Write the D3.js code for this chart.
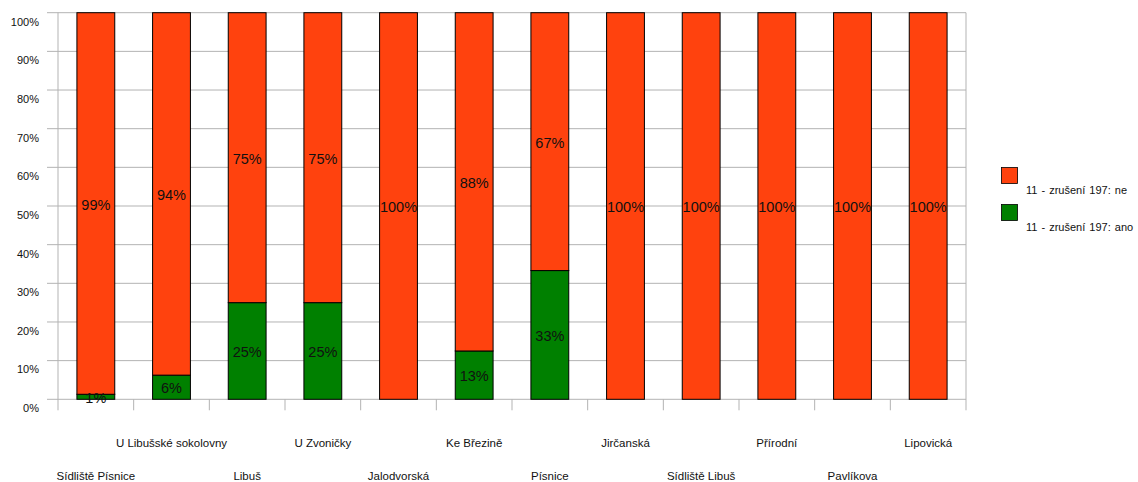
<!DOCTYPE html>
<html><head><meta charset="utf-8">
<script src="https://cdn.jsdelivr.net/npm/d3@7"></script>
<style>body{margin:0;background:#fff}svg{display:block}text{font-family:"Liberation Sans",Arial,sans-serif}</style>
</head><body><svg id="c" width="1138" height="482"></svg>
<script>
const categories = ["Sídliště Písnice","U Libušské sokolovny","Libuš","U Zvoničky","Jalodvorská","Ke Březině","Písnice","Jirčanská","Sídliště Libuš","Přírodní","Pavlíkova","Lipovická"];
const anoValues = [1.3, 6.25, 25, 25, 0, 12.5, 33.3, 0, 0, 0, 0, 0];
const neValues  = [98.7, 93.75, 75, 75, 100, 87.5, 66.7, 100, 100, 100, 100, 100];
const yTicks = [0,10,20,30,40,50,60,70,80,90,100];
const seriesNames = ["11 - zrušení 197: ne", "11 - zrušení 197: ano"];
const colors = {ano:"#008000", ne:"#ff420e"};

const svg = d3.select("#c");
const L=58, R=966, T=12.7, B=399.3;
const x = d3.scaleBand().domain(categories).range([L,R]).paddingInner(0).paddingOuter(0);
const y = d3.scaleLinear().domain([0,100]).range([B,T]);
const bw = x.bandwidth()/2;

svg.append("g").selectAll("line").data(yTicks).join("line")
  .attr("x1",L-11).attr("x2",R).attr("y1",d=>y(d)).attr("y2",d=>y(d))
  .attr("stroke","#b3b3b3").attr("stroke-width",1);
svg.append("line").attr("x1",L).attr("x2",L).attr("y1",T).attr("y2",B+11).attr("stroke","#b3b3b3");
svg.append("line").attr("x1",R).attr("x2",R).attr("y1",T).attr("y2",B+11).attr("stroke","#b3b3b3");
svg.append("g").selectAll("line").data(categories.slice(1)).join("line")
  .attr("x1",d=>x(d)).attr("x2",d=>x(d)).attr("y1",B).attr("y2",B+11).attr("stroke","#b3b3b3");
svg.append("g").selectAll("text").data(yTicks).join("text")
  .attr("x",39).attr("y",d=>y(d)+9).attr("dy","0.35em").attr("text-anchor","end")
  .attr("font-size",11).attr("fill","#111").text(d=>d+"%");

const rows = categories.map((c,i)=>({c, ano:anoValues[i], ne:neValues[i]}));
const g = svg.append("g");
rows.forEach(r=>{
  const cx = x(r.c)+x.bandwidth()/2;
  if(r.ano>0){
    g.append("rect").attr("x",cx-bw/2).attr("width",bw).attr("y",y(r.ano)).attr("height",y(0)-y(r.ano))
     .attr("fill",colors.ano).attr("stroke","#000").attr("stroke-width",1);
  }
  g.append("rect").attr("x",cx-bw/2).attr("width",bw).attr("y",y(r.ano+r.ne)).attr("height",y(r.ano)-y(r.ano+r.ne))
     .attr("fill",colors.ne).attr("stroke","#000").attr("stroke-width",1);
});
rows.forEach(r=>{
  const cx = x(r.c)+x.bandwidth()/2;
  if(r.ano>0){
    g.append("text").attr("x",cx).attr("y",y(r.ano/2)+1).attr("dy","0.35em").attr("text-anchor","middle")
     .attr("font-size",14.5).attr("fill","#111").text(Math.round(r.ano)+"%");
  }
  g.append("text").attr("x",cx).attr("y",y(r.ano+r.ne/2)+1).attr("dy","0.35em").attr("text-anchor","middle")
     .attr("font-size",14.5).attr("fill","#111").text(Math.round(r.ne)+"%");
});

svg.append("g").selectAll("text").data(categories).join("text")
  .attr("x",d=>x(d)+x.bandwidth()/2).attr("y",(d,i)=> i%2===1?443:476).attr("dy","0.35em")
  .attr("text-anchor","middle").attr("font-size",11.5).attr("fill","#111").text(d=>d);

const leg = svg.append("g");
[["ne",167.5],["ano",204.5]].forEach(([k,yy],i)=>{
  leg.append("rect").attr("x",1001.5).attr("y",yy).attr("width",16).attr("height",16)
    .attr("fill",colors[k]).attr("stroke","#000").attr("stroke-width",0.8);
  leg.append("text").attr("x",1026).attr("y",yy+23).attr("dy","0.35em").attr("font-size",11)
    .attr("fill","#111").attr("word-spacing","1px").text(seriesNames[i]);
});
</script></body></html>
